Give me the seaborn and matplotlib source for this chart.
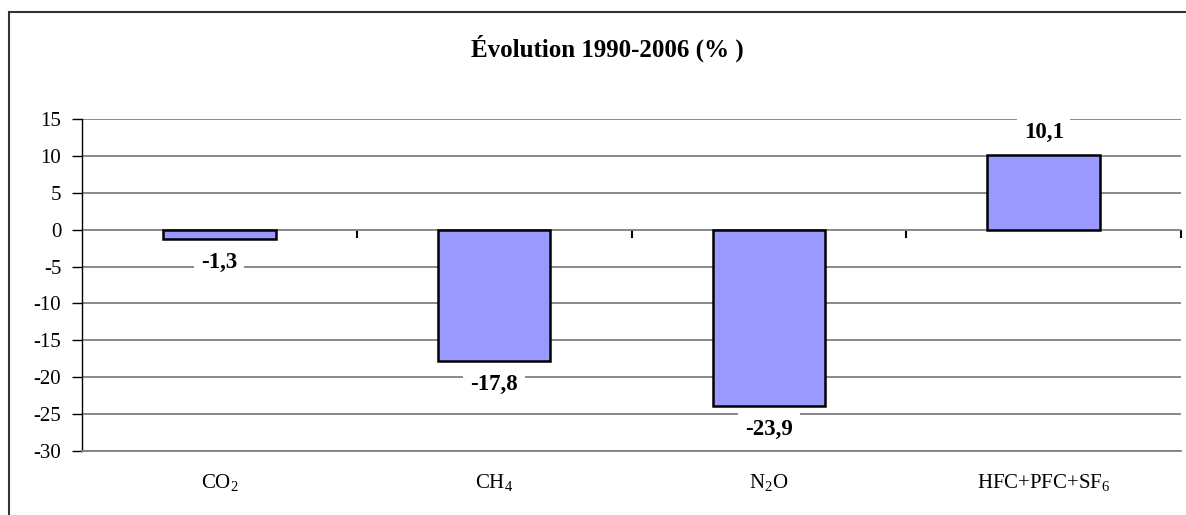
import matplotlib
matplotlib.use("Agg")
import matplotlib.pyplot as plt
import seaborn as sns
import pandas as pd
from matplotlib.patches import Rectangle

# ---- data ----
categories = [r"CO$_\mathrm{2}$", r"CH$_\mathrm{4}$", r"N$_\mathrm{2}$O", r"HFC+PFC+SF$_\mathrm{6}$"]
values = [-1.3, -17.8, -23.9, 10.1]
yticks = [-30, -25, -20, -15, -10, -5, 0, 5, 10, 15]
title = "Évolution 1990-2006 (% )"

sns.set_theme(style="white")
plt.rcParams["font.family"] = ["Liberation Serif", "DejaVu Serif"]
plt.rcParams["mathtext.fontset"] = "custom"
plt.rcParams["mathtext.rm"] = "Liberation Serif"
plt.rcParams["mathtext.it"] = "Liberation Serif:italic"
plt.rcParams["mathtext.bf"] = "Liberation Serif:bold"

df = pd.DataFrame({"cat": categories, "val": values})

fig = plt.figure(figsize=(11.86, 5.15), dpi=100)
ax = fig.add_axes([82/1186, 1-451/515, (1181-82)/1186, (451-119)/515])

sns.barplot(data=df, x="cat", y="val", color="#9999FF", saturation=1,
            edgecolor="black", linewidth=1.8, width=0.41, ax=ax, zorder=3)

ax.set_xlim(-0.5, len(categories) - 0.5)
ax.set_ylim(min(yticks), max(yticks))
ax.set_yticks(yticks)
ax.set_yticklabels([str(t) for t in yticks])
ax.yaxis.grid(True, color="#808080", linewidth=1.3, zorder=0)
ax.set_axisbelow(True)
ax.set_xlabel("")
ax.set_ylabel("")

for s in ["top", "right"]:
    ax.spines[s].set_visible(False)
ax.spines["left"].set_color("black")
ax.spines["left"].set_linewidth(1.0)
ax.spines["bottom"].set_color("#808080")
ax.spines["bottom"].set_linewidth(1.3)

ax.tick_params(axis="y", left=True, length=7, width=1, color="black",
               labelsize=15, pad=8, labelcolor="black")
ax.tick_params(axis="x", bottom=False, length=0, labelsize=15, pad=15,
               labelcolor="black")

# category-boundary ticks on the zero axis
ymin, ymax = min(yticks), max(yticks)
sec = ax.secondary_xaxis((0 - ymin) / (ymax - ymin))
sec.set_xticks([i + 0.5 for i in range(len(categories))])
sec.set_xticklabels([])
sec.xaxis.set_ticks_position("bottom")
sec.tick_params(axis="x", direction="out", length=6, width=1.5, color="black",
                bottom=True, top=False)
sec.spines["bottom"].set_visible(False)
sec.spines["top"].set_visible(False)

# value labels
for i, v in enumerate(values):
    txt = f"{v:.1f}".replace(".", ",")
    off = 16 if v >= 0 else -17
    ax.annotate(txt, xy=(i, v), xytext=(0, off), textcoords="offset points",
                ha="center", va="center", fontsize=16.5, fontweight="bold",
                color="black", zorder=5,
                bbox=dict(boxstyle="square,pad=0.3", facecolor="white",
                          edgecolor="none"))

fig.text(607/1186, 1-48/515, title, ha="center", va="center",
         fontsize=18, fontweight="bold", color="black")

# outer chart border
fig.patches.append(Rectangle((9/1186, -0.1), 1.2, 1 - 12/515 + 0.1,
                             transform=fig.transFigure, fill=False,
                             edgecolor="#333333", linewidth=1.5))

fig.savefig("out.png", dpi=100, facecolor="white")
